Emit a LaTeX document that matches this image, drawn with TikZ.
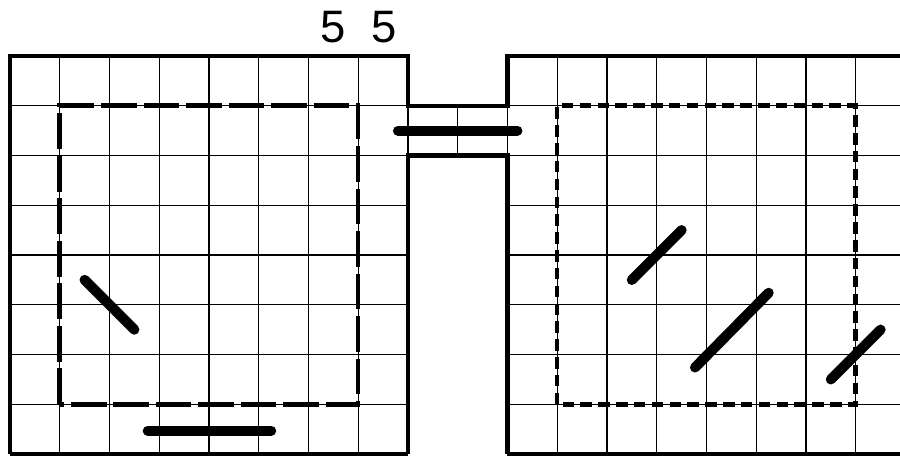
\documentclass[tikz,border=0pt]{standalone}
\usepackage{fontspec}
\setmainfont{Liberation Sans}
\usetikzlibrary{positioning}

\begin{document}
\begin{tikzpicture}[
  x=1cm, y=1cm,
  gridline/.style={draw=black, line width=0.8pt},
  wall/.style={draw=black, line width=2.4pt, line join=miter},
  bar/.style={draw=black, line width=5.8pt, line cap=round},
  longdash/.style={draw=black, line width=2.6pt, dash pattern=on 20.5pt off 3.8pt},
  shortdash/.style={draw=black, line width=2.6pt, dash pattern=on 6.6pt off 3.6pt},
  clue/.style={font=\fontsize{26}{30}\selectfont, inner sep=0pt}
]
\useasboundingbox (-0.2,-0.02) rectangle (17.89,9.126);

% --- Thin grid: two rooms and the corridor between them ---
\draw[gridline] (0,0) grid (8,8);
\draw[gridline] (10,0) grid (18,8);
\draw[gridline] (8,6) grid (10,7);

% --- Dashed cages ---
\draw[longdash] (1,1) rectangle (7,7);
\draw[shortdash] (11,1) rectangle (17,7);

% --- Outer walls ---
\draw[wall] (0,0) -- (0,8) -- (8,8) -- (8,7) -- (10,7) -- (10,8) -- (18,8);
\draw[wall] (8,0) -- (8,6) -- (10,6) -- (10,0);
\draw[wall] (0,0) -- (8,0);
\draw[wall] (10,0) -- (18,0);

% --- Clues above the left room ---
\node[clue] (clueA) at (6.5,8.59) {5};
\node[clue] (clueB) at (7.52,8.59) {5};

% --- Thick bars ---
\draw[bar] (7.8,6.5) -- (10.2,6.5);
\draw[bar] (2.77,0.47) -- (5.25,0.47);
\draw[bar] (1.5,3.5) -- (2.5,2.5);
\draw[bar] (12.5,3.5) -- (13.5,4.5);
\draw[bar] (13.77,1.74) -- (15.25,3.24);
\draw[bar] (16.5,1.5) -- (17.5,2.5);

\end{tikzpicture}
\end{document}
